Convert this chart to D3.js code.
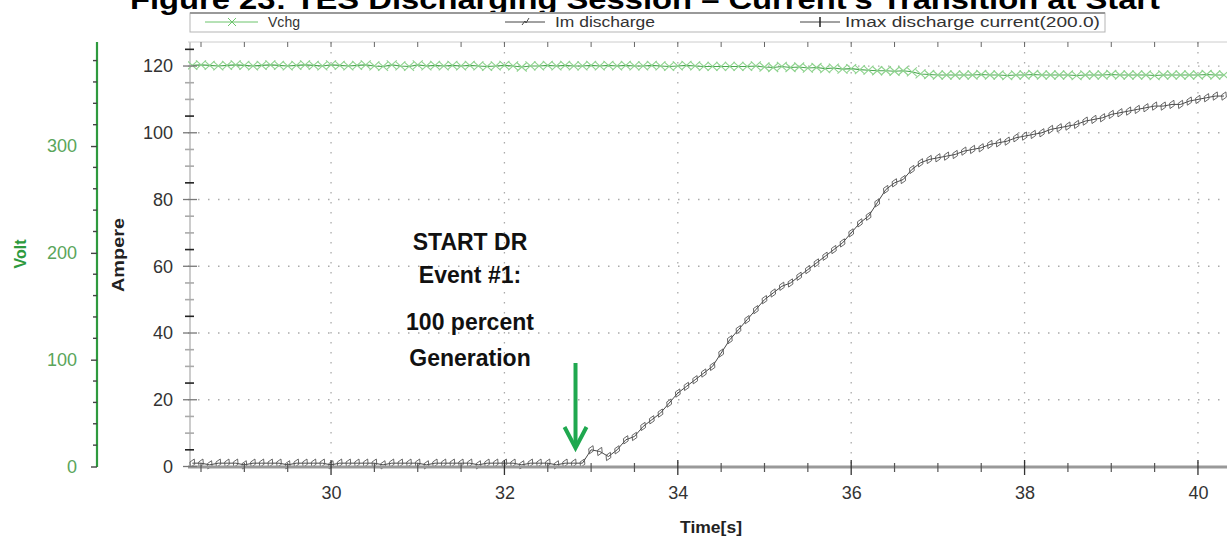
<!DOCTYPE html>
<html>
<head>
<meta charset="utf-8">
<script src="https://cdn.jsdelivr.net/npm/d3@7"></script>
<style>
  body { margin: 0; background: #fff; }
  svg { display: block; font-family: "Liberation Sans", Arial, sans-serif; }
</style>
</head>
<body>
<div id="chart"></div>
<script>
// Sample start / step of the logger (seconds)
var sampleStart = 28.4;
var sampleStep = 0.1;

// Vchg (Volt), one value per sample
var vchgValues = [
  375.5, 376, 375.5, 375, 375.5, 376, 375.5, 375, 375.5, 376,
  375.5, 375, 375.5, 376, 375.5, 375, 376, 375.5, 375, 375.5,
  376, 375, 374.5, 376, 375, 374.5, 376, 375, 375.5, 375,
  375.5, 375, 375.5, 375, 374.5, 375, 375.5, 375, 374, 375,
  375, 375.5, 375, 375.5, 375, 375, 375.5, 375, 375.5, 375,
  375.5, 375, 375, 375.5, 375, 374.5, 375, 375.5, 375, 374.5,
  374.5, 374.5, 374.5, 374.5, 374.5, 375, 374, 373.5, 374.5, 373.5,
  374, 373, 373.5, 372.5, 373, 372, 372.5, 371.5, 371, 370.5,
  370.5, 370, 370.5, 369.5, 367.5, 367, 366.5, 366.5, 366.5, 366.5,
  366.5, 367, 366.5, 366.5, 366, 366.5, 366.5, 367, 366.5, 366.5,
  366.5, 366.5, 366, 366.5, 366.5, 366.5, 367, 366.5, 366.5, 366.5,
  366.5, 366, 366.5, 366.5, 366.5, 366.5, 366.5, 367, 366.5, 366.5
];

// Im discharge (Ampere), one value per sample
var imValues = [
  1, 1, 0.5, 1, 1, 1, 0.5, 1, 1, 1,
  1, 0.5, 1, 1, 1, 1, 0.5, 1, 1, 1,
  1, 1, 0.5, 1, 1, 1, 1, 0.5, 1, 1,
  1, 1, 1, 0.5, 1, 1, 1, 1, 0.5, 1,
  1, 1, 0.5, 1, 1, 1,
  5, 4.5, 3, 5, 8, 9, 12, 14, 16, 19,
  22, 24, 26, 28, 30, 34, 38, 41, 44, 47,
  50, 52, 54, 55, 57, 59, 61, 63, 65, 67,
  70, 73, 75, 79, 83, 85, 86, 89, 91, 92,
  92.5, 93, 93.5, 94.5, 95, 95.5, 96.5, 97, 97.5, 98.5,
  99, 99.5, 100, 101, 101.5, 102, 102.5, 103.5, 104, 104.5,
  105.5, 106, 106.5, 107, 107.5, 108, 108, 108.5, 108.5, 109.5,
  110, 110.5, 111, 111
];

var xTicks = [30, 32, 34, 36, 38, 40];
var ampTicks = [0, 20, 40, 60, 80, 100, 120];
var voltTicks = [0, 100, 200, 300];

var legendNames = ['Vchg', 'Im discharge', 'Imax discharge current(200.0)'];
var annotationLines = ['START DR', 'Event #1:', '100 percent', 'Generation'];
var eventTime = 32.82;

var svgWidth = 1227;
var svgHeight = 538;
var plot = { left: 188, right: 1227, top: 42, bottom: 467 };

var svg = d3.select('#chart').append('svg')
  .attr('width', svgWidth)
  .attr('height', svgHeight);

// scales
var x = d3.scaleLinear().domain([28.35, 40.335]).range([plot.left, plot.right]);
var yAmp = d3.scaleLinear().domain([0, 127.2]).range([466.5, plot.top]);
var yVolt = d3.scaleLinear().domain([0, 397.4]).range([466.5, plot.top]);

function timeAt(i) { return +(sampleStart + i * sampleStep).toFixed(1); }
var vchgData = vchgValues.map(function(v, i) { return { t: timeAt(i), v: v }; });
var imData = imValues.map(function(v, i) { return { t: timeAt(i), v: v }; });

// title (top cut off in the original)
svg.append('text')
  .attr('x', 130).attr('y', 9)
  .attr('textLength', 1030).attr('lengthAdjust', 'spacingAndGlyphs')
  .style('font-size', '28px').style('font-weight', 'bold').style('fill', '#000')
  .text("Figure 23: TES Discharging Session \u2013 Current's Transition at Start");

// legend box
var legend = svg.append('g');
legend.append('rect')
  .attr('x', 190).attr('y', 13).attr('width', 915).attr('height', 19)
  .attr('fill', '#fff').attr('stroke', '#b5b5b5');
legend.append('line')
  .attr('x1', 190).attr('x2', 1105).attr('y1', 13).attr('y2', 13)
  .attr('stroke', '#999').attr('stroke-width', 2);

var legendX = [205, 505, 800];
var legendTextX = [268, 555, 845];
var legendTextW = [32, 100, 255];
legendNames.forEach(function(name, i) {
  var lx = legendX[i];
  var col = i === 0 ? '#6cc46c' : '#444';
  legend.append('line')
    .attr('x1', lx).attr('x2', lx + (i === 0 ? 53 : 40)).attr('y1', 22).attr('y2', 22)
    .attr('stroke', col).attr('stroke-width', 1);
  var mx = lx + (i === 0 ? 27 : 20);
  if (i === 0) {
    legend.append('path').attr('d', 'M-4,-4L4,4M-4,4L4,-4')
      .attr('transform', 'translate(' + mx + ',22)')
      .attr('stroke', col).attr('fill', 'none');
  } else if (i === 1) {
    legend.append('path').attr('d', 'M-3,3L0,-1L1,1L4,-4')
      .attr('transform', 'translate(' + mx + ',22)')
      .attr('stroke', col).attr('fill', 'none');
  } else {
    legend.append('path').attr('d', 'M0,-5L0,5')
      .attr('transform', 'translate(' + mx + ',22)')
      .attr('stroke', '#222').attr('stroke-width', 1.5);
  }
  legend.append('text')
    .attr('x', legendTextX[i]).attr('y', 27)
    .attr('textLength', legendTextW[i]).attr('lengthAdjust', 'spacingAndGlyphs')
    .style('font-size', '14px').style('fill', '#333')
    .text(name);
});

// grid
var grid = svg.append('g');
grid.selectAll('.vg').data(xTicks).enter().append('line')
  .attr('x1', function(d) { return x(d); }).attr('x2', function(d) { return x(d); })
  .attr('y1', plot.top).attr('y2', plot.bottom)
  .attr('stroke', '#aaa').attr('stroke-width', 1.3).attr('stroke-dasharray', '1.5,8.5');
grid.selectAll('.hg').data(ampTicks.slice(1)).enter().append('line')
  .attr('x1', plot.left).attr('x2', plot.right)
  .attr('y1', function(d) { return yAmp(d); }).attr('y2', function(d) { return yAmp(d); })
  .attr('stroke', '#aaa').attr('stroke-width', 1.3).attr('stroke-dasharray', '1.5,8.5');

// plot frame lines
svg.append('line').attr('x1', plot.left).attr('x2', plot.right)
  .attr('y1', plot.top).attr('y2', plot.top).attr('stroke', '#ccc');
svg.append('line').attr('x1', 190).attr('x2', 190)
  .attr('y1', plot.top).attr('y2', plot.bottom).attr('stroke', '#ccc').attr('stroke-width', 2);

// clip
svg.append('clipPath').attr('id', 'clip').append('rect')
  .attr('x', plot.left).attr('y', plot.top)
  .attr('width', plot.right - plot.left).attr('height', plot.bottom - plot.top + 3);
var marks = svg.append('g').attr('clip-path', 'url(#clip)');

// Vchg series
var vchgLine = d3.line().x(function(d) { return x(d.t); }).y(function(d) { return yVolt(d.v); });
marks.append('path').datum(vchgData)
  .attr('d', vchgLine).attr('fill', 'none')
  .attr('stroke', '#4aa64f').attr('stroke-width', 1.1);
marks.selectAll('.vm').data(vchgData).enter().append('path')
  .attr('d', 'M-5,-4.5L5,4.5M-5,4.5L5,-4.5')
  .attr('transform', function(d) { return 'translate(' + x(d.t) + ',' + yVolt(d.v) + ')'; })
  .attr('stroke', '#8fd38f').attr('stroke-width', 1.1).attr('fill', 'none');

// Im discharge series
var imLine = d3.line().x(function(d) { return x(d.t); }).y(function(d) { return yAmp(d.v); });
marks.append('path').datum(imData)
  .attr('d', imLine).attr('fill', 'none')
  .attr('stroke', '#333').attr('stroke-width', 0.9);
var diamond = d3.symbol().type(d3.symbolDiamond).size(24);
marks.selectAll('.im').data(imData).enter().append('path')
  .attr('d', diamond)
  .attr('transform', function(d) { return 'translate(' + x(d.t) + ',' + yAmp(d.v) + ') rotate(25)'; })
  .attr('stroke', '#555').attr('stroke-width', 0.8).attr('fill', 'none');

// x axis
var xAxisG = svg.append('g').attr('transform', 'translate(0,' + plot.bottom + ')');
xAxisG.append('line').attr('x1', plot.left).attr('x2', plot.right)
  .attr('stroke', '#999').attr('stroke-width', 3);
var xMinor = d3.range(28.5, 40.4, 0.5).filter(function(d) { return xTicks.indexOf(d) < 0; });
xAxisG.selectAll('.xmin').data(xMinor).enter().append('line')
  .attr('x1', function(d) { return x(d); }).attr('x2', function(d) { return x(d); })
  .attr('y1', -4).attr('y2', 5).attr('stroke', '#555').attr('stroke-width', 1.2);
var xAxis = d3.axisBottom(x).tickValues(xTicks).tickSize(0).tickPadding(19);
xAxisG.append('g').call(xAxis).call(function(g) {
  g.select('.domain').remove();
  g.selectAll('text').style('font-size', '18px').style('fill', '#333')
    .style('font-family', '"Liberation Sans", Arial, sans-serif');
});
xAxisG.selectAll('.xmaj').data(xTicks).enter().append('line')
  .attr('x1', function(d) { return x(d); }).attr('x2', function(d) { return x(d); })
  .attr('y1', -7).attr('y2', 8).attr('stroke', '#333').attr('stroke-width', 1.3);
svg.append('text').attr('x', 711).attr('y', 533).attr('text-anchor', 'middle')
  .attr('textLength', 62).attr('lengthAdjust', 'spacingAndGlyphs')
  .style('font-size', '17px').style('font-weight', 'bold').style('fill', '#222')
  .text('Time[s]');

// top axis minor ticks
svg.selectAll('.xtop').data(xMinor.concat(xTicks)).enter().append('line')
  .attr('x1', function(d) { return x(d); }).attr('x2', function(d) { return x(d); })
  .attr('y1', plot.top).attr('y2', plot.top + 5).attr('stroke', '#666');

// ampere axis
var ampG = svg.append('g').attr('transform', 'translate(190,0)');
var ampAxis = d3.axisLeft(yAmp).tickValues(ampTicks).tickSize(0).tickPadding(17);
ampG.call(ampAxis).call(function(g) {
  g.select('.domain').remove();
  g.selectAll('text').style('font-size', '18px').style('fill', '#333')
    .style('font-family', '"Liberation Sans", Arial, sans-serif');
});
var ampMinor = d3.range(5, 127, 5).filter(function(d) { return d % 20 !== 0; });
ampG.selectAll('.amin').data(ampMinor).enter().append('line')
  .attr('x1', -5).attr('x2', 4)
  .attr('y1', function(d) { return yAmp(d); }).attr('y2', function(d) { return yAmp(d); })
  .attr('stroke', function(d, i) { return i % 3 === 0 ? '#222' : '#aaa'; })
  .attr('stroke-width', 1.6);
ampG.selectAll('.amaj').data(ampTicks).enter().append('line')
  .attr('x1', -7).attr('x2', 7)
  .attr('y1', function(d) { return yAmp(d); }).attr('y2', function(d) { return yAmp(d); })
  .attr('stroke', '#777').attr('stroke-width', 1.3);
svg.append('text')
  .attr('transform', 'translate(124,255) rotate(-90)')
  .attr('text-anchor', 'middle')
  .attr('textLength', 74).attr('lengthAdjust', 'spacingAndGlyphs')
  .style('font-size', '17px').style('font-weight', 'bold').style('fill', '#222')
  .text('Ampere');

// volt axis
var voltG = svg.append('g').attr('transform', 'translate(97,0)');
voltG.append('line').attr('y1', plot.top).attr('y2', 467)
  .attr('stroke', '#2e9a3e').attr('stroke-width', 2.2);
var voltAxis = d3.axisLeft(yVolt).tickValues(voltTicks).tickSize(6).tickPadding(14);
voltG.call(voltAxis).call(function(g) {
  g.select('.domain').remove();
  g.selectAll('.tick line').attr('stroke', '#444').attr('stroke-width', 1.4);
  g.selectAll('text').style('font-size', '18px').style('fill', '#5aa55a')
    .style('font-family', '"Liberation Sans", Arial, sans-serif');
});
var voltMinor = d3.range(20, 397, 20).filter(function(d) { return d % 100 !== 0; });
voltG.selectAll('.vmin').data(voltMinor).enter().append('line')
  .attr('x1', -4).attr('x2', 0)
  .attr('y1', function(d) { return yVolt(d); }).attr('y2', function(d) { return yVolt(d); })
  .attr('stroke', '#444').attr('stroke-width', 1.4);
svg.append('text')
  .attr('transform', 'translate(26,254) rotate(-90)')
  .attr('text-anchor', 'middle')
  .style('font-size', '16px').style('font-weight', 'bold').style('fill', '#2e9a3e')
  .text('Volt');

// annotation
var annY = [242, 275, 322, 358];
svg.selectAll('.ann').data(annotationLines).enter().append('text')
  .attr('x', 470).attr('y', function(d, i) { return annY[i] + 8; })
  .attr('text-anchor', 'middle')
  .style('font-size', '23px').style('font-weight', 'bold').style('fill', '#111')
  .text(function(d) { return d; });

// event arrow
var ax = x(eventTime);
svg.append('line').attr('x1', ax).attr('x2', ax).attr('y1', 363).attr('y2', 446)
  .attr('stroke', '#1fa84f').attr('stroke-width', 4);
svg.append('path')
  .attr('d', 'M' + (ax - 11) + ',427L' + ax + ',448L' + (ax + 11) + ',427')
  .attr('fill', 'none').attr('stroke', '#1fa84f').attr('stroke-width', 4);
</script>
</body>
</html>
